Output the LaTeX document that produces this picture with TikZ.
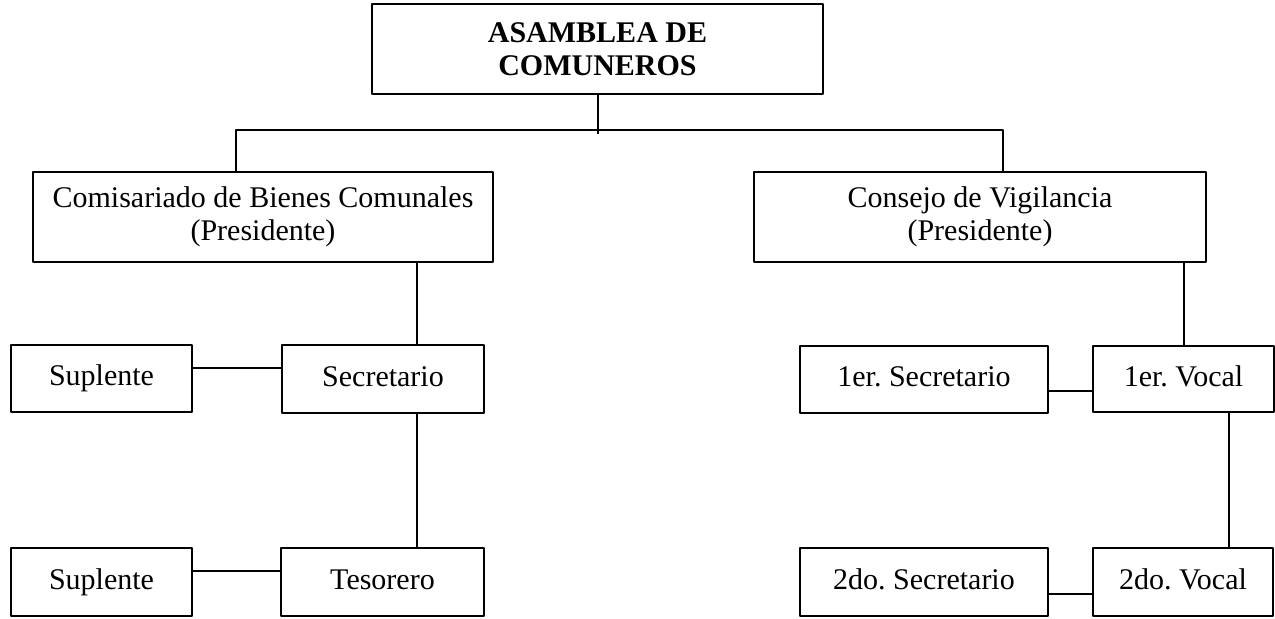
\documentclass[tikz,border=0pt]{standalone}
\usepackage{fontspec}
\setmainfont{Liberation Serif}
\frenchspacing
\tikzset{
  orgbox/.style={draw, inner sep=0pt, align=center, font=\fontsize{15bp}{16.5bp}\selectfont},
  onebox/.style={orgbox, text height=10.5bp, text depth=3.2bp},
}
\begin{document}
\begin{tikzpicture}[line join=bevel,]
  \pgfsetlinewidth{1bp}
  \useasboundingbox (0bp,0bp) rectangle (637.5bp,309.5bp);
%%
\pgfsetcolor{black}
  % Node: asamblea
  \node [orgbox, minimum width=225.5bp, minimum height=45bp] (asamblea) at (298.75bp,285.0bp) {\textbf{ASAMBLEA DE}\\\textbf{COMUNEROS}};
  % Node: comisariado
  \node [orgbox, minimum width=230.0bp, minimum height=45bp] (comisariado) at (131.5bp,201.0bp) {Comisariado de Bienes Comunales\\(Presidente)};
  % Node: consejo
  \node [orgbox, minimum width=226.0bp, minimum height=45bp] (consejo) at (490.0bp,201.0bp) {Consejo de Vigilancia\\(Presidente)};
  % Node: suplenteA
  \node [onebox, minimum width=90.5bp, minimum height=33.5bp] (suplenteA) at (50.75bp,120.25bp) {Suplente};
  % Node: secretario
  \node [onebox, minimum width=101.0bp, minimum height=34bp] (secretario) at (191.5bp,120.0bp) {Secretario};
  % Node: suplenteB
  \node [onebox, minimum width=90.5bp, minimum height=34bp] (suplenteB) at (50.75bp,18.5bp) {Suplente};
  % Node: tesorero
  \node [onebox, minimum width=101.5bp, minimum height=34bp] (tesorero) at (191.25bp,18.5bp) {Tesorero};
  % Node: secretarioA
  \node [onebox, minimum width=124.0bp, minimum height=33.5bp] (secretarioA) at (462.0bp,119.75bp) {1er. Secretario};
  % Node: vocalA
  \node [onebox, minimum width=90.5bp, minimum height=33bp] (vocalA) at (591.75bp,120.0bp) {1er. Vocal};
  % Node: secretarioB
  \node [onebox, minimum width=124.0bp, minimum height=34bp] (secretarioB) at (462.0bp,18.5bp) {2do. Secretario};
  % Node: vocalB
  \node [onebox, minimum width=90.0bp, minimum height=34bp] (vocalB) at (591.5bp,18.5bp) {2do. Vocal};
%
  \coordinate (busL) at (118.0bp,244.5bp);
  \coordinate (busR) at (501.5bp,244.5bp);
  \coordinate (leftcol) at (208.5bp,0bp);
  \coordinate (rightcol) at (614.5bp,0bp);
  % Edge: asamblea -> comisariado, consejo
  \draw (asamblea.south) -- ([yshift=-2bp]asamblea.south |- busL);
  \draw (busL |- comisariado.north) -- (busL) -- (busR) -- (busR |- consejo.north);
  % Edge: comisariado -> secretario -> tesorero
  \draw (leftcol |- comisariado.south) -- (leftcol |- secretario.north);
  \draw (leftcol |- secretario.south) -- (leftcol |- tesorero.north);
  % Edge: suplenteA -- secretario
  \draw (suplenteA.east |- 0bp,125.5bp) -- (secretario.west |- 0bp,125.5bp);
  % Edge: suplenteB -- tesorero
  \draw (suplenteB.east |- 0bp,24.0bp) -- (tesorero.west |- 0bp,24.0bp);
  % Edge: consejo -> vocalA -> vocalB
  \draw (vocalA.north |- consejo.south) -- (vocalA.north);
  \draw (rightcol |- vocalA.south) -- (rightcol |- vocalB.north);
  % Edge: secretarioA -- vocalA
  \draw (secretarioA.east |- 0bp,114.0bp) -- (vocalA.west |- 0bp,114.0bp);
  % Edge: secretarioB -- vocalB
  \draw (secretarioB.east |- 0bp,12.5bp) -- (vocalB.west |- 0bp,12.5bp);
%
\end{tikzpicture}
\end{document}
